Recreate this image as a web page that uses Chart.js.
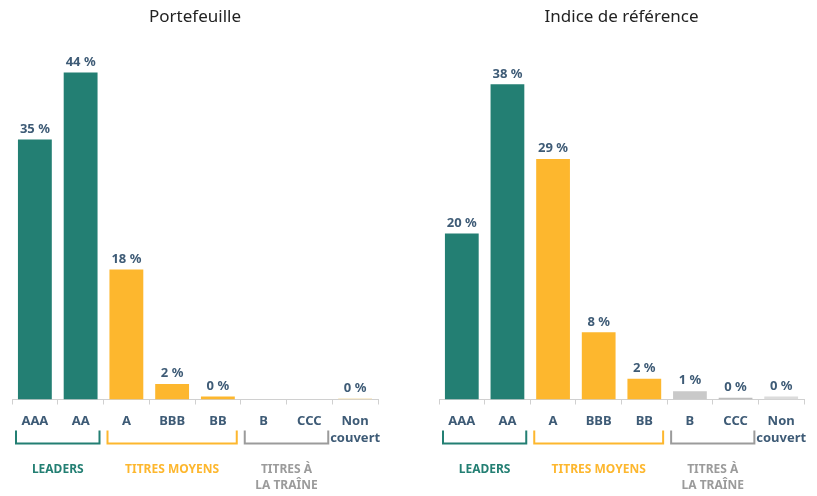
<!DOCTYPE html>
<html>
<head>
<meta charset="utf-8">
<script src="https://cdn.jsdelivr.net/npm/chart.js@4.4.1/dist/chart.umd.min.js"></script>
<style>
  html, body { margin: 0; padding: 0; background: #fff; }
  #wrap { position: relative; width: 817px; height: 496px; }
  .box { position: absolute; top: 0; height: 496px; }
</style>
</head>
<body>
<div id="wrap">
  <div class="box" style="left:0;width:408px"><canvas id="portefeuille"></canvas></div>
  <div class="box" style="left:408px;width:409px"><canvas id="indice"></canvas></div>
</div>
<script>
// Catégories de notation
const categories = ['AAA', 'AA', 'A', 'BBB', 'BB', 'B', 'CCC', ['Non', 'couvert']];

// Valeurs (%)
const portefeuilleValues = [35, 44, 17.5, 2.1, 0.4, 0, 0, 0.15];
const portefeuilleLabels = ['35 %', '44 %', '18 %', '2 %', '0 %', null, null, '0 %'];

const indiceValues = [20, 38, 29, 8.1, 2.5, 1, 0.2, 0.35];
const indiceLabels = ['20 %', '38 %', '29 %', '8 %', '2 %', '1 %', '0 %', '0 %'];

// Groupes sous l'axe
const groupNames = [['LEADERS'], ['TITRES MOYENS'], ['TITRES À', 'LA TRAÎNE']];
const groupStart = [0, 2, 5];
const groupEnd = [1, 4, 6];

const GREEN = '#237f73';
const YELLOW = '#fdb72e';
const GREY = '#9b9b9b';
const TEXT = '#3e5b76';
const FONT = "'Noto Sans', sans-serif";

const groupColors = [GREEN, YELLOW, GREY];

// Étiquettes de valeur au-dessus des barres
const valueLabels = {
    id: 'valueLabels',
    afterDatasetsDraw(chart, args, opts) {
        const ctx = chart.ctx;
        const meta = chart.getDatasetMeta(0);
        ctx.save();
        ctx.font = 'bold 13px ' + FONT;
        ctx.fillStyle = TEXT;
        ctx.textAlign = 'center';
        ctx.textBaseline = 'bottom';
        meta.data.forEach((bar, i) => {
            const txt = opts.labels[i];
            if (txt) ctx.fillText(txt, bar.x, bar.y - 4);
        });
        ctx.restore();
    }
};

// Accolades et noms des groupes
const groupBrackets = {
    id: 'groupBrackets',
    afterDraw(chart) {
        const ctx = chart.ctx;
        const x = chart.scales.x;
        const half = x.width / categories.length / 2;
        const base = chart.chartArea.bottom;
        ctx.save();
        groupNames.forEach((name, g) => {
            const left = x.getPixelForValue(groupStart[g]) - half + 4;
            const right = x.getPixelForValue(groupEnd[g]) + half - 4;
            ctx.strokeStyle = groupColors[g];
            ctx.lineWidth = 2;
            ctx.beginPath();
            ctx.moveTo(left, base + 31);
            ctx.lineTo(left, base + 44);
            ctx.lineTo(right, base + 44);
            ctx.lineTo(right, base + 31);
            ctx.stroke();

            ctx.fillStyle = groupColors[g];
            ctx.font = 'bold 12px ' + FONT;
            ctx.textAlign = 'center';
            ctx.textBaseline = 'middle';
            name.forEach((line, k) => {
                ctx.fillText(line, (left + right) / 2, base + 70 + k * 16);
            });
        });
        ctx.restore();
    }
};

function makeChart(id, title, values, labels, colors, yMax, pad) {
    const ctx = document.getElementById(id).getContext('2d');
    return new Chart(ctx, {
        type: 'bar',
        data: {
            labels: categories,
            datasets: [{
                data: values,
                backgroundColor: colors,
                categoryPercentage: 1,
                barPercentage: 0.74
            }]
        },
        options: {
            responsive: true,
            maintainAspectRatio: false,
            animation: false,
            layout: { padding: pad },
            plugins: {
                legend: { display: false },
                tooltip: { enabled: false },
                title: {
                    display: true,
                    text: title,
                    color: '#222',
                    font: { family: FONT, size: 17, weight: 'normal' },
                    padding: { top: 7, bottom: 8 }
                },
                valueLabels: { labels: labels }
            },
            scales: {
                x: {
                    grid: {
                        offset: true,
                        drawOnChartArea: false,
                        drawTicks: true,
                        tickLength: 5,
                        color: '#d0d0d0'
                    },
                    border: { color: '#d0d0d0' },
                    ticks: {
                        color: TEXT,
                        padding: 9,
                        maxRotation: 0,
                        autoSkip: false,
                        font: { family: FONT, size: 13, weight: 'bold', lineHeight: 1.25 }
                    }
                },
                y: {
                    display: false,
                    min: 0,
                    max: yMax
                }
            }
        },
        plugins: [valueLabels, groupBrackets]
    });
}

const leftColors = [GREEN, GREEN, YELLOW, YELLOW, YELLOW, YELLOW, YELLOW, '#f3dca6'];
const rightColors = [GREEN, GREEN, YELLOW, YELLOW, YELLOW, '#c9c9c9', '#bdbdbd', '#dcdcdc'];

makeChart('portefeuille', 'Portefeuille', portefeuilleValues, portefeuilleLabels,
    leftColors, 49, { left: 12, right: 30, top: 0, bottom: 41 });
makeChart('indice', 'Indice de référence', indiceValues, indiceLabels,
    rightColors, 43.9, { left: 31, right: 13, top: 0, bottom: 41 });
</script>
</body>
</html>
